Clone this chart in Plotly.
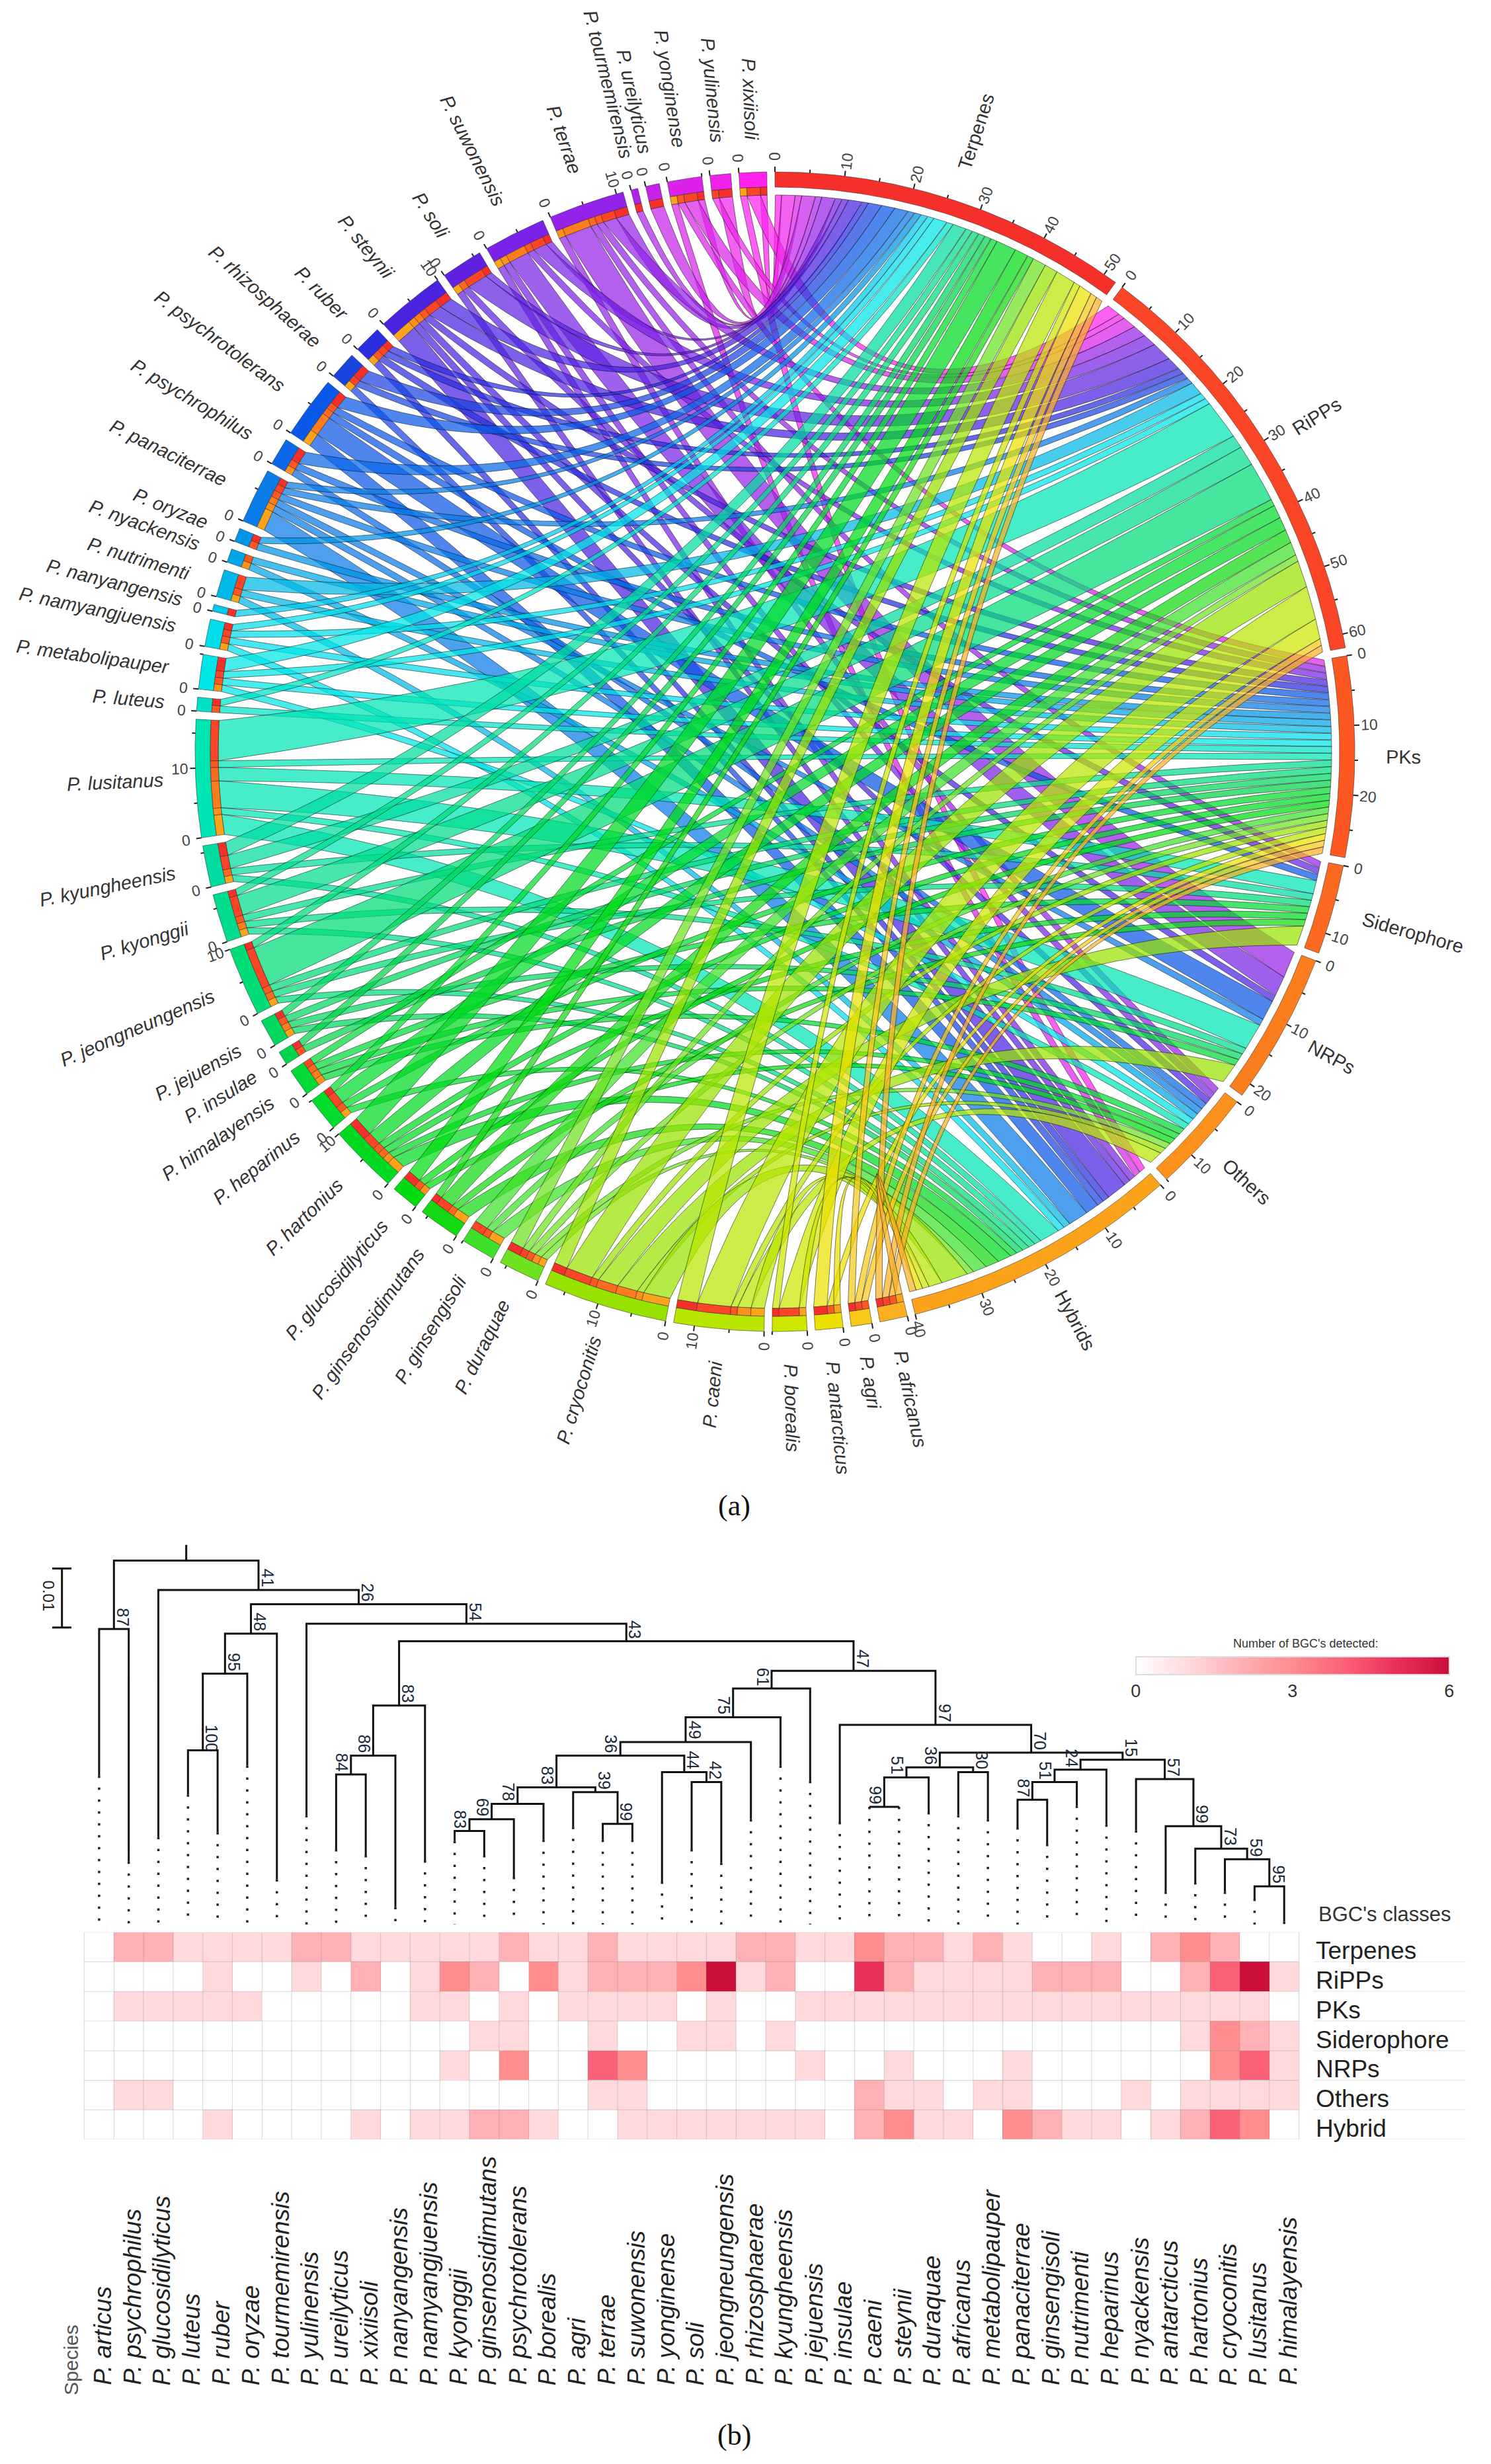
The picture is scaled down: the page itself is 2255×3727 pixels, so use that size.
import math
import plotly.graph_objects as go

# ---------- data ----------
HEAT_SPECIES = ["articus","psychrophilus","glucosidilyticus","luteus","ruber","oryzae","tourmemirensis",
    "yulinensis","ureilyticus","xixiisoli","nanyangensis","namyangjuensis","kyonggii","ginsenosidimutans",
    "psychrotolerans","borealis","agri","terrae","suwonensis","yonginense","soli","jeongneungensis",
    "rhizosphaerae","kyungheensis","jejuensis","insulae","caeni","steynii","duraquae","africanus",
    "metabolipauper","panaciterrae","ginsengisoli","nutrimenti","heparinus","nyackensis","antarcticus",
    "hartonius","cryoconitis","lusitanus","himalayensis"]
HEAT_CLASSES = ["Terpenes","RiPPs","PKs","Siderophore","NRPs","Others","Hybrid"]
CHORD_CLASSES = ["Terpenes","RiPPs","PKs","Siderophore","NRPs","Others","Hybrids"]
TERPENES =    [0,2,2,1,1,1,1,2,2,1,1,1,1,1,2,1,1,2,1,1,1,1,2,2,1,1,3,2,2,1,2,1,0,0,1,0,2,3,2,0,0]
RIPPS =       [0,0,0,0,1,0,0,1,0,2,0,1,3,2,0,3,1,2,2,2,3,6,1,2,0,0,5,2,1,1,1,1,2,2,2,0,0,2,4,6,1]
PKS =         [0,1,1,1,1,1,0,0,0,0,0,1,1,0,1,0,1,1,1,1,0,1,0,0,1,1,1,1,1,1,1,1,1,1,1,1,1,1,1,1,0]
SIDEROPHORE = [0,0,0,0,0,0,0,0,0,0,0,0,0,1,1,0,0,1,0,0,1,1,0,1,0,0,0,0,0,0,0,0,0,0,0,0,0,1,3,2,1]
NRPS =        [0,0,0,0,0,0,0,0,0,0,0,0,1,0,3,0,0,4,3,0,0,0,0,0,1,0,0,1,0,0,0,1,0,0,0,0,0,0,3,4,1]
OTHERS =      [0,1,1,0,0,0,0,0,0,0,0,0,0,0,0,0,0,1,1,0,0,0,0,0,0,0,2,1,1,0,1,1,0,0,0,1,0,1,1,1,1]
HYBRID =      [0,0,0,0,1,0,0,0,0,1,0,1,1,2,2,1,0,0,1,1,1,1,1,1,1,0,2,3,1,1,0,3,2,1,1,0,1,2,4,3,0]
MATRIX = [TERPENES,RIPPS,PKS,SIDEROPHORE,NRPS,OTHERS,HYBRID]

CHORD_SPECIES = ["africanus","agri","antarcticus","borealis","caeni","cryoconitis","duraquae","ginsengisoli",
    "ginsenosidimutans","glucosidilyticus","hartonius","heparinus","himalayensis","insulae","jejuensis",
    "jeongneungensis","kyonggii","kyungheensis","lusitanus","luteus","metabolipauper","namyangjuensis",
    "nanyangensis","nutrimenti","nyackensis","oryzae","panaciterrae","psychrophilus","psychrotolerans",
    "rhizosphaerae","ruber","steynii","soli","suwonensis","terrae","tourmemirensis","ureilyticus",
    "yonginense","yulinensis","xixiisoli"]

# dendrogram: depth in thousandths of substitutions/site
TIP_DEPTH = [39.2,53.8,49.6,42.4,48.8,37.5,56.8,45.9,51.7,52.7,61.5,53.6,50.3,52.7,56.4,50.1,47.9,50.1,50.1,57.2,
    51.7,54.0,46.6,37.5,40.1,47.1,44.5,44.5,45.4,45.9,46.6,48.0,50.8,44.3,47.5,48.5,58.9,57.3,58.9,60.1,64.0]
# (name, left child, right child, depth, support, label side)
TREE = [
 ("a",0,1,14.3,87,1),("b",3,4,34.9,100,1),("c","b",5,21.9,95,1),("d","c",6,15.1,48,1),
 ("e",8,9,39.0,84,-1),("f","e",10,35.8,86,-1),("g","f",11,27.3,83,1),
 ("h",12,13,48.6,83,-1),("i","h",14,46.6,69,-1),("j","i",15,44.0,78,-1),
 ("k",17,18,47.4,99,1),("l",16,"k",42.0,39,1),("m","j","l",41.2,83,-1),
 ("n",20,21,40.3,42,1),("o",19,"n",38.6,44,1),("p","m","o",35.8,36,-1),
 ("q","p",22,33.5,49,1),("r","q",23,29.3,75,-1),("s","r",24,24.4,61,-1),
 ("t",26,27,44.5,99,-1),("u","t",28,39.5,51,-1),("v",29,30,38.6,30,1),("w","u","v",37.8,36,-1),
 ("x",31,32,43.3,87,-1),("y","x",33,40.3,51,-1),("z","y",34,38.2,24,-1),
 ("aa",39,40,58.0,95,1),("ab",38,"aa",53.4,59,1),("ac",37,"ab",51.6,73,1),("ad",36,"ac",47.8,99,1),
 ("ae",35,"ad",39.8,57,1),("af","z","ae",36.5,15,1),("ag","w","af",35.3,70,1),("ah",25,"ag",30.6,97,1),
 ("ai","s","ah",21.4,47,1),("aj","g","ai",16.4,43,1),("ak",7,"aj",13.4,54,1),("al","d","ak",10.1,26,1),
 ("am",2,"al",7.7,41,1),("an","a","am",2.7,None,1),
]
SCALE_BAR = 10.0
DOT_END = 64.5
COLORBAR_TICKS = [0,3,6]

# ---------- styles ----------
CLASS_COLORS = ["#f5302a","#fa4526","#fd5722","#fc6920","#fb7d1e","#fc911c","#fba31a"]
SPECIES_COLORS = ["#fbb022","#f6c818","#ece000","#cfe600","#b8e600","#98e200","#6ee21e","#3fe02a","#12d912","#00dc10",
    "#00d922","#00dc2c","#00d936","#00d44a","#00d860","#00dc78","#00dc8c","#00dca0","#00e5b4","#00e0c8",
    "#00e5e5","#00dcea","#00c8ea","#00b8e8","#00a6e8","#0093e8","#0a7ce8","#0a68e8","#0a58e8","#1a44e0",
    "#2a2ee0","#4a22e0","#6022e0","#7a22e8","#9522e8","#af22ea","#c622ea","#dc22ea","#f022ea","#ff22ee"]
HEAT_SCALE = [[0,"#ffffff"],[1/6,"#ffd9dc"],[2/6,"#ffb1b6"],[3/6,"#ff8d8e"],[4/6,"#fb6079"],[5/6,"#e8305a"],[1,"#cb0e3a"]]
SANS = "Liberation Sans"
W, H = 2255, 3727
CX, CY, R = 1172, 1137, 877
R_IN = 854; R_LINK = 842
GAP = 0.8

def rgba(h, a):
    return f"rgba({int(h[1:3],16)},{int(h[3:5],16)},{int(h[5:7],16)},{a})"
EM = dict(zip("abcdefghijklmnopqrstuvwxyz", [.556,.556,.5,.556,.556,.278,.556,.556,.222,.222,.5,.222,.833,.556,.556,.556,.556,.333,.5,.278,.556,.5,.722,.5,.5,.5]))
def textw(s, size):
    return sum(EM.get(c, .667 if c.isupper() else .278) for c in s) * size

fig = go.Figure()
ann = []

# ---------- chord ----------
def pt(theta, r):
    t = math.radians(theta)
    return r*math.sin(t), r*math.cos(t)
def arc(a, b, r, n=14):
    return [pt(a+(b-a)*i/n, r) for i in range(n+1)]
def bez(a, b, r, sign, n=36):
    d = (b-a) % 360
    if sign < 0:
        d -= 360
    mid = a + d/2
    rc = 0.56*r*max(abs(math.cos(math.radians(d/2))),0.0)**1.2
    p0, p2, c = pt(a, r), pt(b, r), pt(mid, rc)
    out = []
    for i in range(n+1):
        t = i/n
        out.append(((1-t)**2*p0[0]+2*t*(1-t)*c[0]+t*t*p2[0], (1-t)**2*p0[1]+2*t*(1-t)*c[1]+t*t*p2[1]))
    return out

idx = {s:i for i,s in enumerate(HEAT_SPECIES)}
class_tot = [sum(r) for r in MATRIX]
sp_val = {s:[MATRIX[c][idx[s]] for c in range(7)] for s in CHORD_SPECIES}
sp_tot = {s:sum(sp_val[s]) for s in CHORD_SPECIES}
total = sum(class_tot)+sum(sp_tot.values())
nsec = len(CHORD_CLASSES)+len(CHORD_SPECIES)
unit = (360-nsec*GAP)/total

pos = 0.0
cstart, sstart = [], {}
for c in range(7):
    cstart.append(pos); pos += class_tot[c]*unit+GAP
for s in CHORD_SPECIES:
    sstart[s] = pos; pos += sp_tot[s]*unit+GAP

c_cursor = list(cstart)
c_pos = {}
for s in reversed(CHORD_SPECIES):
    for c in range(7):
        v = sp_val[s][c]
        if v:
            c_pos[(s,c)] = (c_cursor[c], c_cursor[c]+v*unit)
            c_cursor[c] += v*unit
s_pos = {}
for s in CHORD_SPECIES:
    cur = sstart[s]
    for c in reversed(range(7)):
        v = sp_val[s][c]
        if v:
            s_pos[(s,c)] = (cur, cur+v*unit); cur += v*unit

def poly(P, fill, lw=1.0, lc="rgba(0,0,0,0.5)"):
    fig.add_trace(go.Scatter(x=[p[0] for p in P], y=[p[1] for p in P], mode="lines", fill="toself",
        fillcolor=fill, line=dict(color=lc, width=lw), hoverinfo="skip", showlegend=False, xaxis="x", yaxis="y"))

for si in range(len(CHORD_SPECIES)-1, -1, -1):
    s = CHORD_SPECIES[si]
    for c in range(7):
        if sp_val[s][c]:
            a1,a2 = s_pos[(s,c)]; b1,b2 = c_pos[(s,c)]
            dm = (((b1+b2)/2-(a1+a2)/2+180) % 360)-180
            sg = 1 if dm >= 0 else -1
            P = arc(a1,a2,R_LINK)+bez(a2,b1,R_LINK,sg)+arc(b1,b2,R_LINK)+bez(b2,a1,R_LINK,-sg)
            poly(P, rgba(SPECIES_COLORS[si],0.72))

def ring(a,b,r0,r1,col):
    n = max(3,int((b-a)*2))
    poly(arc(a,b,r1,n)+arc(b,a,r0,n)+[pt(a,r1)], col, 0.9, "rgba(40,40,40,0.6)")

tx, ty = [], []
def tick(theta, r0, r1):
    p,q = pt(theta,r0),pt(theta,r1)
    tx.extend([p[0],q[0],None]); ty.extend([p[1],q[1],None])

def angle_for(th):
    th %= 360
    if th > 180:
        return math.degrees(math.atan2(math.cos(math.radians(th)), -math.sin(math.radians(th))))
    return math.degrees(math.atan2(-math.cos(math.radians(th)), math.sin(math.radians(th))))

def sector_axis(start, tot):
    for v in range(0, tot+1, 5):
        th = start+v*unit
        major = v % 10 == 0
        tick(th, R, R+(8 if major else 5))
        if major:
            x,y = pt(th, R+23)
            ann.append(dict(x=x,y=y,xref="x",yref="y",text=str(v),showarrow=False,textangle=angle_for(th),
                xanchor="center",yanchor="middle",font=dict(family=SANS,size=23,color="#444")))

def sector_label(start, tot, text, italic):
    th = start+tot*unit/2
    wd = textw(text, 29)
    x,y = pt(th, 924+wd/2)
    ann.append(dict(x=x,y=y,xref="x",yref="y",text=f"<i>{text}</i>" if italic else text,showarrow=False,
        textangle=angle_for(th),xanchor="center",yanchor="middle",font=dict(family=SANS,size=29,color="#333")))

for c,name in enumerate(CHORD_CLASSES):
    ring(cstart[c], cstart[c]+class_tot[c]*unit, R_IN, R, CLASS_COLORS[c])
    sector_axis(cstart[c], class_tot[c])
    sector_label(cstart[c], class_tot[c], name, False)
for si,s in enumerate(CHORD_SPECIES):
    ring(sstart[s], sstart[s]+sp_tot[s]*unit, R_IN, R, SPECIES_COLORS[si])
    for c in range(7):
        if sp_val[s][c]:
            a,b = s_pos[(s,c)]
            ring(a,b,R_LINK,R_IN,CLASS_COLORS[c])
    sector_axis(sstart[s], sp_tot[s])
    sector_label(sstart[s], sp_tot[s], "P. "+s, True)
fig.add_trace(go.Scatter(x=tx,y=ty,mode="lines",line=dict(color="#222",width=2),hoverinfo="skip",showlegend=False,xaxis="x",yaxis="y"))

# ---------- heatmap ----------
X0 = 127.5; CW = (1964.6-127.5)/41
HEAT_TOP = 2922.7; RH = 313.4/7
def xv(px): return (px-X0)/CW-0.5
def yv(px): return (px-HEAT_TOP)/RH-0.5
def yp(px): return 1-px/H
fig.add_trace(go.Heatmap(z=MATRIX, x=list(range(41)), y=list(range(7)), zmin=0, zmax=6, colorscale=HEAT_SCALE,
    hoverinfo="skip", xaxis="x2", yaxis="y2",
    colorbar=dict(orientation="h", x=(1718+2191.6)/2/W, xanchor="center", y=1-2506/H, yanchor="top",
        thickness=27, thicknessmode="pixels", len=473.6, lenmode="pixels", xpad=0, ypad=0,
        tickvals=COLORBAR_TICKS, ticks="", outlinecolor="#dddddd", outlinewidth=2,
        tickfont=dict(family=SANS,size=27,color="#333"))))
gx, gy = [], []
for i in range(42):
    gx += [i-0.5,i-0.5,None]; gy += [-0.5,6.5,None]
for j in range(8):
    gx += [-0.5,40.5,None]; gy += [j-0.5,j-0.5,None]
fig.add_trace(go.Scatter(x=gx,y=gy,mode="lines",line=dict(color="rgba(130,130,130,0.28)",width=1.2),hoverinfo="skip",showlegend=False,xaxis="x2",yaxis="y2"))
lx, ly = [], []
for i in range(1,42):
    lx += [i-0.5,i-0.5,None]; ly += [yv(3258),yv(3610),None]
for j in range(1,8):
    lx += [xv(1986),xv(2217),None]; ly += [j-0.5,j-0.5,None]
fig.add_trace(go.Scatter(x=lx,y=ly,mode="lines",line=dict(color="#ececec",width=1.5),hoverinfo="skip",showlegend=False,xaxis="x2",yaxis="y2",cliponaxis=False))
for i,s in enumerate(HEAT_SPECIES):
    ann.append(dict(x=i+0.12,y=yp(3610),xref="x2",yref="paper",text=f"<i>P. {s}</i>",showarrow=False,textangle=-90,
        xanchor="center",yanchor="bottom",font=dict(family=SANS,size=37,color="#222")))
for j,c in enumerate(HEAT_CLASSES):
    ann.append(dict(x=xv(1988),y=j+0.13,xref="x2",yref="y2",text=c,showarrow=False,xanchor="left",yanchor="middle",
        font=dict(family=SANS,size=37,color="#222")))
ann.append(dict(x=xv(1992),y=yp(2895),xref="x2",yref="paper",text="BGC's classes",showarrow=False,xanchor="left",yanchor="middle",font=dict(family=SANS,size=31,color="#333")))
ann.append(dict(x=xv(107),y=yp(3570),xref="x2",yref="paper",text="Species",showarrow=False,textangle=-90,xanchor="center",yanchor="middle",font=dict(family=SANS,size=30,color="#555")))
ann.append(dict(x=xv(1975),y=yp(2486),xref="x2",yref="paper",text="Number of BGC's detected:",showarrow=False,xanchor="center",yanchor="middle",font=dict(family=SANS,size=18,color="#333")))

# ---------- dendrogram ----------
TOP = 2336.5; DS = (2922.7-2336.5)/65.8
info = {}
tree_x, tree_y, dot_x, dot_y = [], [], [], []
for i,d in enumerate(TIP_DEPTH):
    info[i] = (float(i), d)
    dot_x += [i,i,None]; dot_y += [d,DOT_END,None]
for name,l,r,d,sup,side in TREE:
    xl,dl = info[l]; xr,dr = info[r]
    tree_x += [xl,xl,xr,xr,None]; tree_y += [dl,d,d,dr,None]
    xm = (xl+xr)/2
    info[name] = (xm,d)
    if sup is not None:
        ann.append(dict(x=xm+side*0.3,y=d-2.0,xref="x2",yref="y3",text=str(sup),showarrow=False,textangle=90,
            xanchor="center",yanchor="middle",font=dict(family=SANS,size=25,color="#1a2a3a")))
xm,d = info["an"]
tree_x += [xm,xm,None]; tree_y += [0,d,None]
fig.add_trace(go.Scatter(x=dot_x,y=dot_y,mode="lines",line=dict(color="#222",width=3.5,dash="3.5px,14.5px"),hoverinfo="skip",showlegend=False,xaxis="x2",yaxis="y3"))
fig.add_trace(go.Scatter(x=tree_x,y=tree_y,mode="lines",line=dict(color="#111",width=3),hoverinfo="skip",showlegend=False,xaxis="x2",yaxis="y3"))
sb0 = (2372.6-TOP)/DS
bx, b1, b2 = xv(93.7), xv(79), xv(108)
fig.add_trace(go.Scatter(x=[bx,bx,None,b1,b2,None,b1,b2],y=[sb0,sb0+SCALE_BAR,None,sb0,sb0,None,sb0+SCALE_BAR,sb0+SCALE_BAR],
    mode="lines",line=dict(color="#111",width=3),hoverinfo="skip",showlegend=False,xaxis="x2",yaxis="y3",cliponaxis=False))
ann.append(dict(x=xv(73),y=sb0+SCALE_BAR/2-0.4,xref="x2",yref="y3",text="0.01",showarrow=False,textangle=90,xanchor="center",yanchor="middle",font=dict(family=SANS,size=24,color="#222")))

for txt,py in (("(a)",2277),("(b)",3683)):
    ann.append(dict(x=1110/W,y=yp(py),xref="paper",yref="paper",text=txt,showarrow=False,xanchor="center",yanchor="middle",font=dict(family="Liberation Serif",size=44,color="#111")))

axis = dict(visible=False, showgrid=False, zeroline=False, fixedrange=True)
fig.update_layout(width=W, height=H, autosize=False, margin=dict(l=0,r=0,t=0,b=0), paper_bgcolor="white", plot_bgcolor="rgba(0,0,0,0)",
    showlegend=False, annotations=ann,
    xaxis=dict(axis, domain=[0,1], range=[-CX, W-CX]),
    yaxis=dict(axis, domain=[1-2300/H,1], range=[CY-2300, CY]),
    xaxis2=dict(axis, domain=[0,1], range=[xv(0), xv(W)], anchor="y2"),
    yaxis2=dict(axis, domain=[1-(HEAT_TOP+7*RH)/H, 1-HEAT_TOP/H], range=[6.5,-0.5], anchor="x2"),
    yaxis3=dict(axis, domain=[1-HEAT_TOP/H, 1-TOP/H], range=[65.8,0], anchor="x2"))
fig.write_html("out.html", config=dict(displayModeBar=False), post_script="document.body.style.margin='0';document.documentElement.style.overflow='hidden';")
